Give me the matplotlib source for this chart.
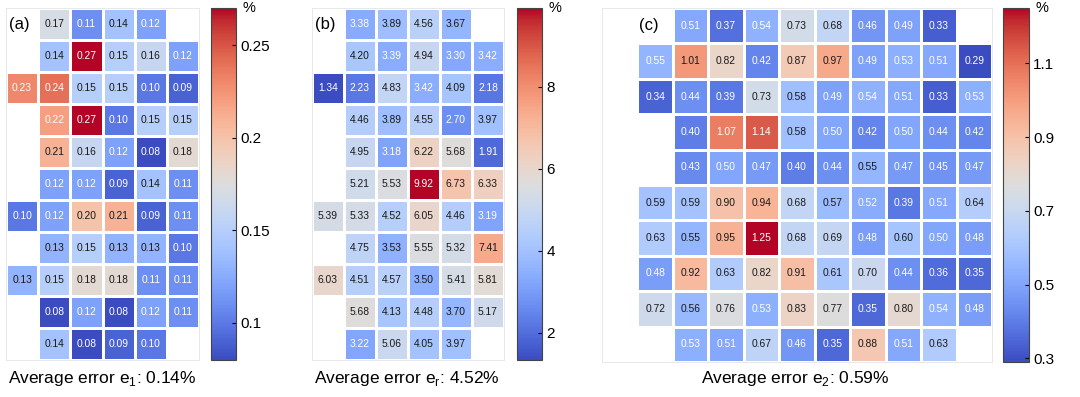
import matplotlib
matplotlib.use("Agg")
import matplotlib.pyplot as plt
import numpy as np

plt.rcParams['font.family'] = ['Liberation Sans', 'DejaVu Sans']

nan = np.nan

# panel (a): e1 error map, %
err_a = np.array([
    [nan, 0.17, 0.11, 0.14, 0.12, nan],
    [nan, 0.14, 0.27, 0.15, 0.16, 0.12],
    [0.23, 0.24, 0.15, 0.15, 0.10, 0.09],
    [nan, 0.22, 0.27, 0.10, 0.15, 0.15],
    [nan, 0.21, 0.16, 0.12, 0.08, 0.18],
    [nan, 0.12, 0.12, 0.09, 0.14, 0.11],
    [0.10, 0.12, 0.20, 0.21, 0.09, 0.11],
    [nan, 0.13, 0.15, 0.13, 0.13, 0.10],
    [0.13, 0.15, 0.18, 0.18, 0.11, 0.11],
    [nan, 0.08, 0.12, 0.08, 0.12, 0.11],
    [nan, 0.14, 0.08, 0.09, 0.10, nan],
])

# panel (b): er error map, %
err_b = np.array([
    [nan, 3.38, 3.89, 4.56, 3.67, nan],
    [nan, 4.20, 3.39, 4.94, 3.30, 3.42],
    [1.34, 2.23, 4.83, 3.42, 4.09, 2.18],
    [nan, 4.46, 3.89, 4.55, 2.70, 3.97],
    [nan, 4.95, 3.18, 6.22, 5.68, 1.91],
    [nan, 5.21, 5.53, 9.92, 6.73, 6.33],
    [5.39, 5.33, 4.52, 6.05, 4.46, 3.19],
    [nan, 4.75, 3.53, 5.55, 5.32, 7.41],
    [6.03, 4.51, 4.57, 3.50, 5.41, 5.81],
    [nan, 5.68, 4.13, 4.48, 3.70, 5.17],
    [nan, 3.22, 5.06, 4.05, 3.97, nan],
])

# panel (c): e2 error map, %
err_c = np.array([
    [nan, nan, 0.51, 0.37, 0.54, 0.73, 0.68, 0.46, 0.49, 0.33, nan],
    [nan, 0.546, 1.01, 0.82, 0.42, 0.87, 0.97, 0.49, 0.53, 0.51, 0.29],
    [nan, 0.34, 0.44, 0.39, 0.73, 0.58, 0.49, 0.54, 0.51, 0.33, 0.53],
    [nan, nan, 0.40, 1.07, 1.14, 0.58, 0.50, 0.42, 0.50, 0.44, 0.42],
    [nan, nan, 0.43, 0.50, 0.47, 0.40, 0.44, 0.55, 0.47, 0.45, 0.47],
    [nan, 0.59, 0.59, 0.90, 0.94, 0.68, 0.57, 0.52, 0.39, 0.51, 0.64],
    [nan, 0.63, 0.55, 0.95, 1.25, 0.68, 0.69, 0.48, 0.60, 0.50, 0.48],
    [nan, 0.48, 0.92, 0.63, 0.82, 0.91, 0.61, 0.70, 0.44, 0.36, 0.35],
    [nan, 0.72, 0.56, 0.76, 0.53, 0.83, 0.77, 0.35, 0.80, 0.54, 0.48],
    [nan, nan, 0.53, 0.51, 0.67, 0.46, 0.35, 0.88, 0.51, 0.63, nan],
])

panel_tags = ['(a)', '(b)', '(c)']
cbar_ticks = [[0.1, 0.15, 0.2, 0.25], [2, 4, 6, 8], [0.3, 0.5, 0.7, 0.9, 1.1]]
captions = ['Average error e$_{\\mathregular{1}}$: 0.14%',
            'Average error e$_{\\mathregular{r}}$: 4.52%',
            'Average error e$_{\\mathregular{2}}$: 0.59%']

W, H = 1080, 397
fig = plt.figure(figsize=(W / 100, H / 100), dpi=100)


def px(x0, y0, x1, y1):
    return [x0 / W, 1 - y1 / H, (x1 - x0) / W, (y1 - y0) / H]


layout = [
    # heatmap box, colorbar box, caption x, tag x, white-text limits
    dict(ax=(6, 8, 199, 360), cb=(211, 8, 236, 360), cap=102, tag=0.08, lim=(0.24, 0.71)),
    dict(ax=(312, 8, 504, 360), cb=(517, 8, 542, 360), cap=407, tag=0.08, lim=(0.248, 0.75)),
    dict(ax=(602, 8, 992, 362), cb=(1003, 8, 1029, 362), cap=795, tag=1.05, lim=(0.27, 0.78)),
]

cmap = plt.get_cmap('coolwarm').copy()
cmap.set_bad('white')

for data, tag, ticks, cap, lay in zip([err_a, err_b, err_c], panel_tags,
                                      cbar_ticks, captions, layout):
    ax = fig.add_axes(px(*lay['ax']))
    cax = fig.add_axes(px(*lay['cb']))
    nr, nc = data.shape
    vmin, vmax = np.nanmin(data), np.nanmax(data)
    mesh = ax.pcolormesh(np.ma.masked_invalid(data), cmap=cmap, vmin=vmin, vmax=vmax,
                         edgecolors='white', linewidth=1.0)
    ax.set_xlim(0, nc)
    ax.set_ylim(nr, 0)
    ax.set_xticks([])
    ax.set_yticks([])
    for s in ax.spines.values():
        s.set_color('#e4e4e4')
        s.set_linewidth(0.6)

    lo, hi = lay['lim']
    for i in range(nr):
        for j in range(nc):
            v = data[i, j]
            if np.isnan(v):
                continue
            t = (v - vmin) / (vmax - vmin)
            col = 'white' if (t < lo or t > hi) else '#1a1a1a'
            ax.text(j + 0.5, i + 0.5, f'{v:.2f}', ha='center', va='center',
                    fontsize=7.4, color=col)

    ax.text(lay['tag'], 0.5, tag, ha='left', va='center', fontsize=12)

    cb = fig.colorbar(mesh, cax=cax)
    cb.set_ticks(ticks)
    cb.set_ticklabels([f'{t:g}' for t in ticks])
    cb.outline.set_edgecolor('#444444')
    cb.outline.set_linewidth(0.8)
    cax.tick_params(direction='in', length=3, width=0.8, labelsize=11, pad=3)
    cax.text(1.25, 1.0, '%', transform=cax.transAxes, ha='left', va='center', fontsize=10.5)

    fig.text(lay['cap'] / W, 1 - 379 / H, cap, ha='center', va='center', fontsize=12.5)

fig.savefig('out.png', dpi=100)
